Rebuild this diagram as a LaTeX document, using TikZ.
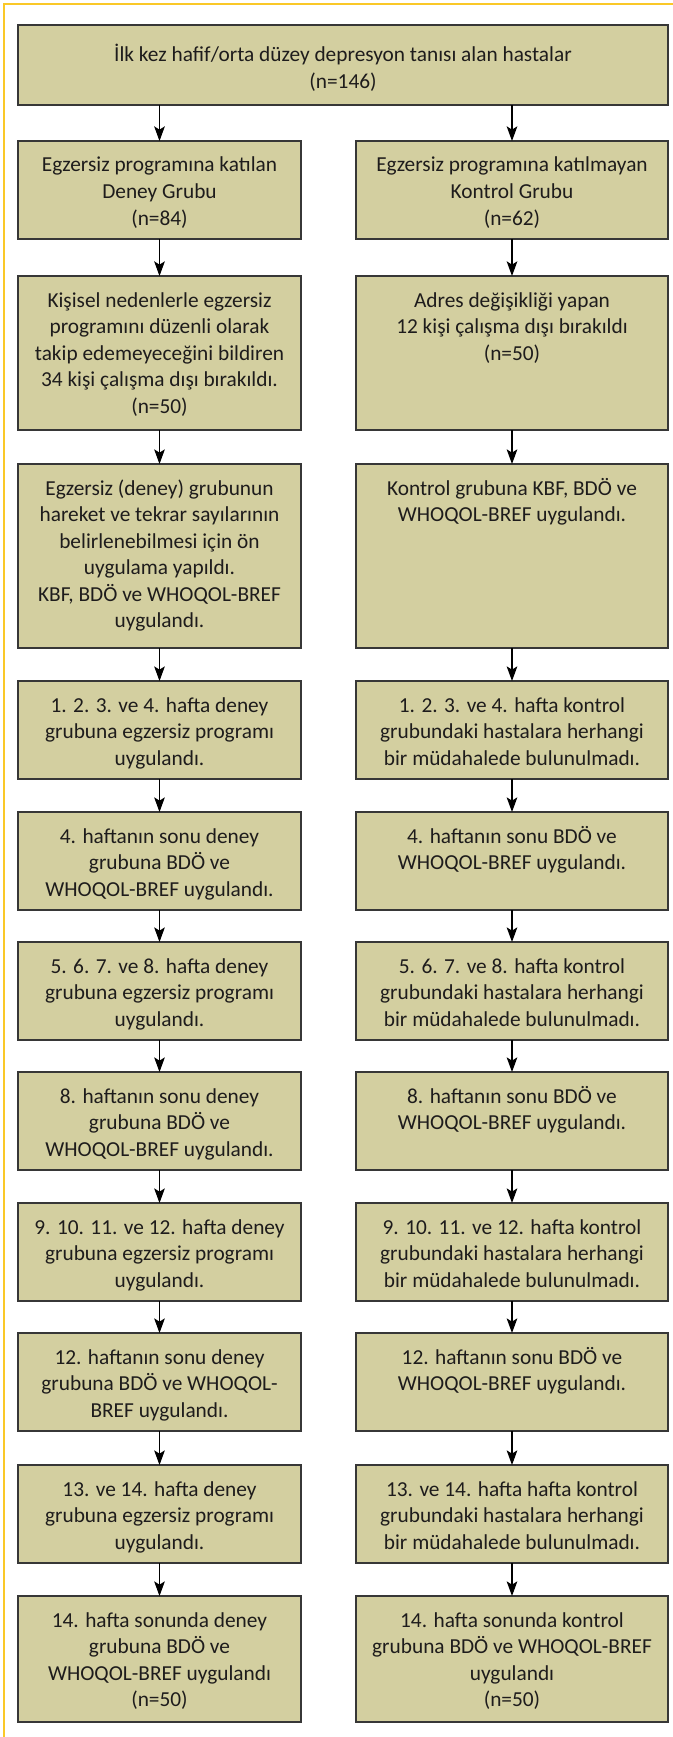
\documentclass[tikz,border=0pt]{standalone}
\usepackage{fontspec}
\setmainfont{Carlito}
\usetikzlibrary{arrows.meta}
\newdimen\px \px=0.75pt
\definecolor{boxfill}{RGB}{211,207,160}
\definecolor{boxline}{RGB}{55,55,55}
\definecolor{frameyel}{RGB}{250,200,40}
\definecolor{txt}{RGB}{30,28,28}
\tikzset{
  box/.style={draw=boxline, fill=boxfill, line width=1.1pt, inner sep=0pt, outer sep=0pt,
    text=txt, font=\fontsize{16pt}{19.9pt}\selectfont},
  arr/.style={draw=black, line width=0.8pt, -{Stealth[length=11pt,width=8pt,inset=2.5pt]}},
}
% name, x, y, width, height, first-baseline offset, text
\newcommand{\fbx}[7]{%
  \node[box, anchor=north west] (#1) at (#2,#3)
   {\begin{minipage}[t][#5\px][t]{#4\px}\centering\rule{0pt}{#6\px}#7\end{minipage}};}
\begin{document}
\begin{tikzpicture}[x=0.75pt,y=-0.75pt]
\useasboundingbox (0,0) rectangle (673,1737);
\fill[white] (0,0) rectangle (673,1737);
\draw[frameyel, line width=1.5pt] (4,1737) -- (4,4) -- (673,4);

\fbx{top}{18}{25}{650}{80}{37}{İlk kez hafif/orta düzey depresyon tanısı alan hastalar\\(n=146)}

\fbx{r2l}{18}{141}{283}{98}{31}{Egzersiz programına katılan\\Deney Grubu\\(n=84)}
\fbx{r2r}{356}{141}{312}{98}{31}{Egzersiz programına katılmayan\\Kontrol Grubu\\(n=62)}

\fbx{r3l}{18}{276}{283}{154}{31}{Kişisel nedenlerle egzersiz\\programını düzenli olarak\\takip edemeyeceğini bildiren\\34 kişi çalışma dışı bırakıldı.\\(n=50)}
\fbx{r3r}{356}{276}{312}{154}{31}{Adres değişikliği yapan\\12 kişi çalışma dışı bırakıldı\\(n=50)}

\fbx{r4l}{18}{464}{283}{184}{31}{Egzersiz (deney) grubunun\\hareket ve tekrar sayılarının\\belirlenebilmesi için ön\\uygulama yapıldı.\\KBF, BDÖ ve WHOQOL-BREF\\uygulandı.}
\fbx{r4r}{356}{464}{312}{184}{31}{Kontrol grubuna KBF, BDÖ ve\\WHOQOL-BREF uygulandı.}

\fbx{r5l}{18}{681}{283}{98}{31}{1. 2. 3. ve 4. hafta deney\\grubuna egzersiz programı\\uygulandı.}
\fbx{r5r}{356}{681}{312}{98}{31}{1. 2. 3. ve 4. hafta kontrol\\grubundaki hastalara herhangi\\bir müdahalede bulunulmadı.}

\fbx{r6l}{18}{812}{283}{98}{31}{4. haftanın sonu deney\\grubuna BDÖ ve\\WHOQOL-BREF uygulandı.}
\fbx{r6r}{356}{812}{312}{98}{31}{4. haftanın sonu BDÖ ve\\WHOQOL-BREF uygulandı.}

\fbx{r7l}{18}{942}{283}{98}{31}{5. 6. 7. ve 8. hafta deney\\grubuna egzersiz programı\\uygulandı.}
\fbx{r7r}{356}{942}{312}{98}{31}{5. 6. 7. ve 8. hafta kontrol\\grubundaki hastalara herhangi\\bir müdahalede bulunulmadı.}

\fbx{r8l}{18}{1072}{283}{98}{31}{8. haftanın sonu deney\\grubuna BDÖ ve\\WHOQOL-BREF uygulandı.}
\fbx{r8r}{356}{1072}{312}{98}{31}{8. haftanın sonu BDÖ ve\\WHOQOL-BREF uygulandı.}

\fbx{r9l}{18}{1203}{283}{98}{31}{9. 10. 11. ve 12. hafta deney\\grubuna egzersiz programı\\uygulandı.}
\fbx{r9r}{356}{1203}{312}{98}{31}{9. 10. 11. ve 12. hafta kontrol\\grubundaki hastalara herhangi\\bir müdahalede bulunulmadı.}

\fbx{r10l}{18}{1333}{283}{98}{31}{12. haftanın sonu deney\\grubuna BDÖ ve WHOQOL-\\BREF uygulandı.}
\fbx{r10r}{356}{1333}{312}{98}{31}{12. haftanın sonu BDÖ ve\\WHOQOL-BREF uygulandı.}

\fbx{r11l}{18}{1465}{283}{98}{31}{13. ve 14. hafta deney\\grubuna egzersiz programı\\uygulandı.}
\fbx{r11r}{356}{1465}{312}{98}{31}{13. ve 14. hafta hafta kontrol\\grubundaki hastalara herhangi\\bir müdahalede bulunulmadı.}

\fbx{r12l}{18}{1596}{283}{126}{31}{14. hafta sonunda deney\\grubuna BDÖ ve\\WHOQOL-BREF uygulandı\\(n=50)}
\fbx{r12r}{356}{1596}{312}{126}{31}{14. hafta sonunda kontrol\\grubuna BDÖ ve WHOQOL-BREF\\uygulandı\\(n=50)}

\draw[arr] (top.south -| r2l.north) -- (r2l.north);
\draw[arr] (top.south -| r2r.north) -- (r2r.north);
\foreach \a/\b in {2/3,3/4,4/5,5/6,6/7,7/8,8/9,9/10,10/11,11/12}{
  \draw[arr] (r\a l.south) -- (r\b l.north);
  \draw[arr] (r\a r.south) -- (r\b r.north);
}
\end{tikzpicture}
\end{document}
